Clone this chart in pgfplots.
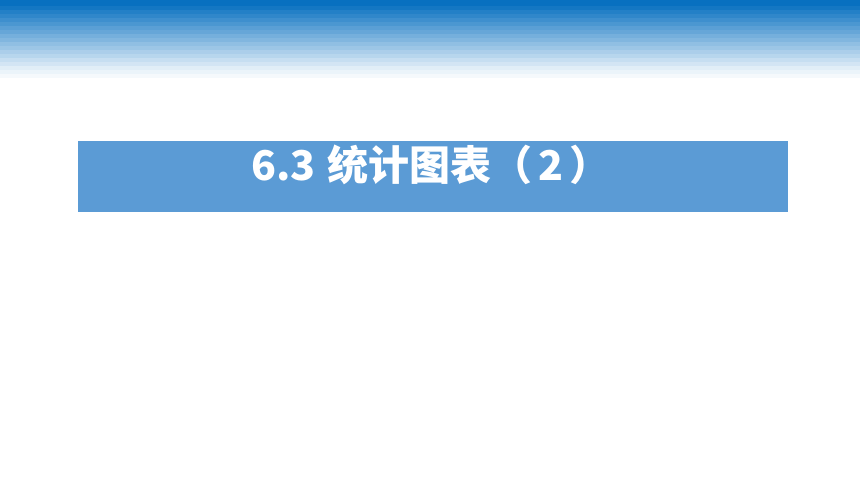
\documentclass[border=0pt]{standalone}
\usepackage{fontspec}
\usepackage{pgfplots}
\pgfplotsset{compat=1.18}
\setmainfont{Open Sans}
\newfontfamily\cjk{Noto Sans CJK SC}
\definecolor{bandtop}{RGB}{8,112,192}
\definecolor{boxblue}{RGB}{91,155,213}
\begin{document}
\begin{tikzpicture}
\begin{axis}[
    width=860pt, height=484pt,
    scale only axis,
    xmin=0, xmax=860, ymin=0, ymax=484,
    y dir=reverse,
    axis lines=none,
    ticks=none,
    clip=true,
]
% white slide background, keeps the page at full size
\addplot[draw=none, fill=white] coordinates {(0,0) (860,0) (860,484) (0,484)} --cycle;
% header gradient, drawn as bands
\addplot[draw=none, fill=bandtop] coordinates {(0,0) (860,0) (860,6) (0,6)} --cycle;
\addplot[draw=none, fill=bandtop!95!white] coordinates {(0,6) (860,6) (860,10) (0,10)} --cycle;
\addplot[draw=none, fill=bandtop!89!white] coordinates {(0,10) (860,10) (860,14) (0,14)} --cycle;
\addplot[draw=none, fill=bandtop!84!white] coordinates {(0,14) (860,14) (860,18) (0,18)} --cycle;
\addplot[draw=none, fill=bandtop!78!white] coordinates {(0,18) (860,18) (860,22) (0,22)} --cycle;
\addplot[draw=none, fill=bandtop!73!white] coordinates {(0,22) (860,22) (860,26) (0,26)} --cycle;
\addplot[draw=none, fill=bandtop!67!white] coordinates {(0,26) (860,26) (860,30) (0,30)} --cycle;
\addplot[draw=none, fill=bandtop!62!white] coordinates {(0,30) (860,30) (860,34) (0,34)} --cycle;
\addplot[draw=none, fill=bandtop!56!white] coordinates {(0,34) (860,34) (860,38) (0,38)} --cycle;
\addplot[draw=none, fill=bandtop!51!white] coordinates {(0,38) (860,38) (860,42) (0,42)} --cycle;
\addplot[draw=none, fill=bandtop!45!white] coordinates {(0,42) (860,42) (860,46) (0,46)} --cycle;
\addplot[draw=none, fill=bandtop!40!white] coordinates {(0,46) (860,46) (860,50) (0,50)} --cycle;
\addplot[draw=none, fill=bandtop!34!white] coordinates {(0,50) (860,50) (860,54) (0,54)} --cycle;
\addplot[draw=none, fill=bandtop!29!white] coordinates {(0,54) (860,54) (860,58) (0,58)} --cycle;
\addplot[draw=none, fill=bandtop!23!white] coordinates {(0,58) (860,58) (860,62) (0,62)} --cycle;
\addplot[draw=none, fill=bandtop!18!white] coordinates {(0,62) (860,62) (860,66) (0,66)} --cycle;
\addplot[draw=none, fill=bandtop!12!white] coordinates {(0,66) (860,66) (860,70) (0,70)} --cycle;
\addplot[draw=none, fill=bandtop!8!white] coordinates {(0,70) (860,70) (860,74) (0,74)} --cycle;
\addplot[draw=none, fill=bandtop!4!white] coordinates {(0,74) (860,74) (860,78) (0,78)} --cycle;
% title box
\addplot[draw=none, fill=boxblue] coordinates {(78,141) (788,141) (788,212) (78,212)} --cycle;
\node[text=white, font=\cjk\bfseries\fontsize{41}{44}\selectfont, anchor=west, inner sep=0pt]
    at (axis cs:251,165) {6.3\hspace{12pt}统计图表（\hspace{6pt}2\hspace{6pt}）};
\end{axis}
\end{tikzpicture}
\end{document}
